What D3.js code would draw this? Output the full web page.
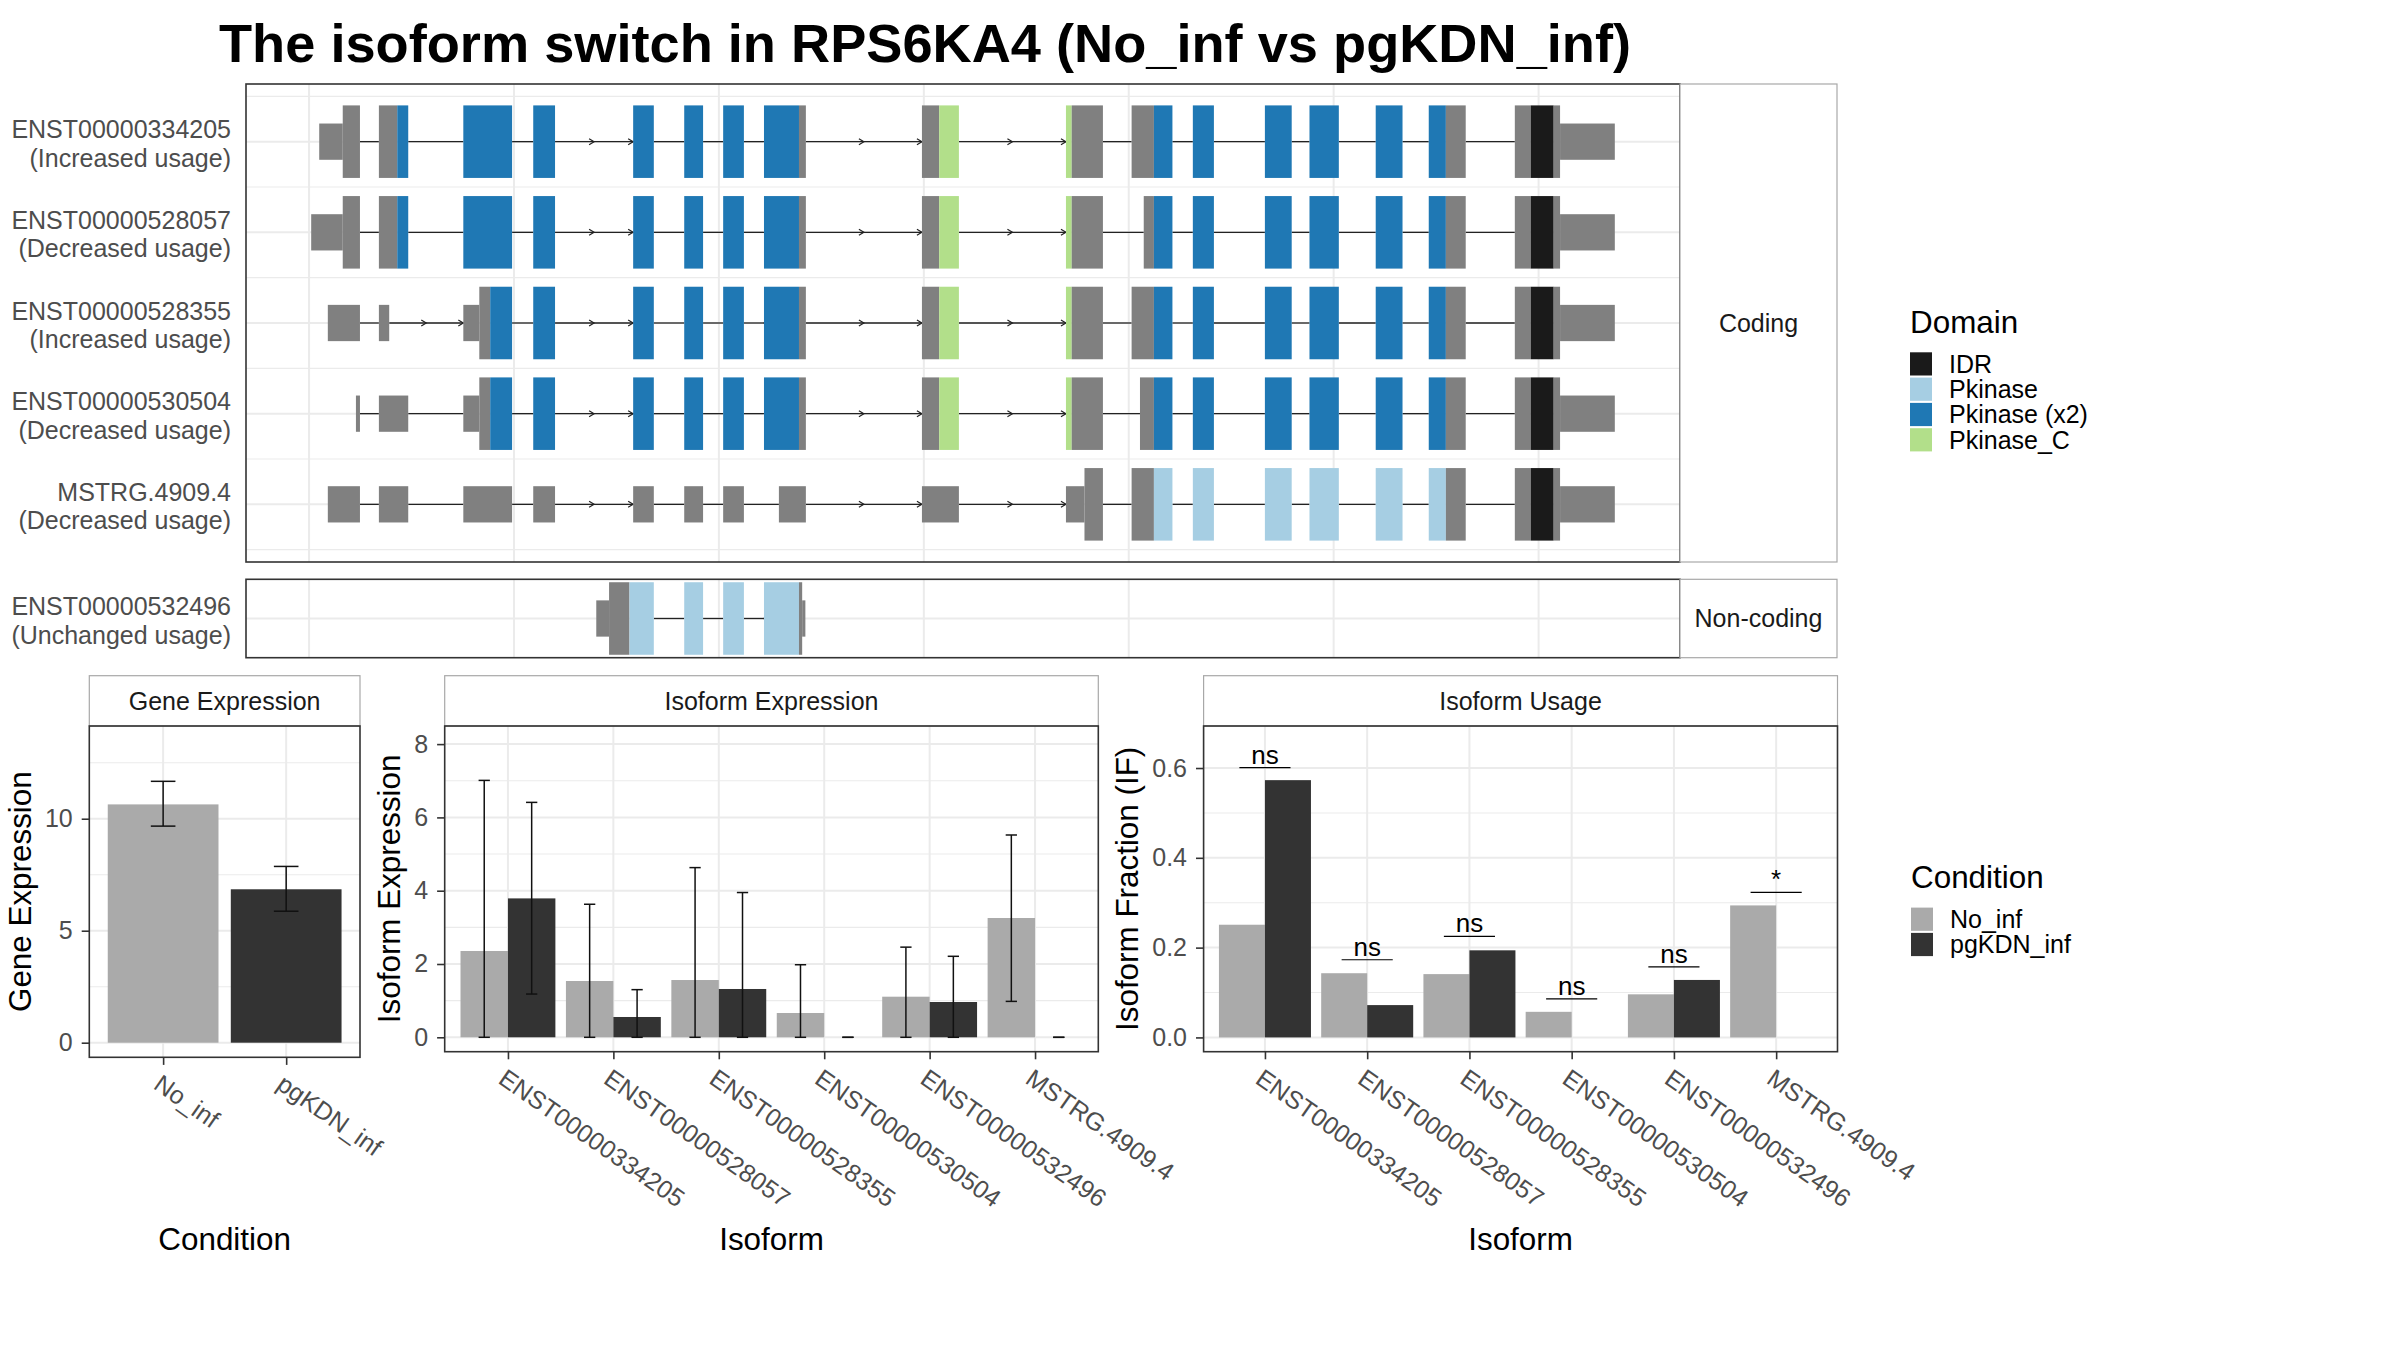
<!DOCTYPE html>
<html>
<head>
<meta charset="utf-8">
<script src="https://cdn.jsdelivr.net/npm/d3@7"></script>
<style>
  body { margin: 0; background: #fff; }
  svg { display: block; font-family: "Liberation Sans", Arial, Helvetica, sans-serif; }
</style>
</head>
<body>
<div id="chart"></div>
<script>
// ---------- data ----------
// exon pieces in bp relative to chr11:64,360,000 ; [start, end, type]
const U = "UTR", C = "CDS", IDR = "IDR", PK = "Pkinase", PK2 = "Pkinase (x2)", PKC = "Pkinase_C";

const tailMid = [[2735, 3001, PK2], [3954, 4206, PK2], [4577, 4807, PK2], [5052, 5305, PK2],
  [5550, 5977, PK2], [5977, 6061, C], [7477, 7687, C], [7687, 7928, PKC], [9234, 9304, PKC], [9304, 9685, C]];
const tailEnd = [[10307, 10533, PK2], [10782, 11039, PK2], [11661, 11988, PK2], [12205, 12563, PK2],
  [13013, 13340, PK2], [13660, 13869, PK2], [13869, 14111, C], [14710, 14904, C], [14904, 15184, IDR],
  [15184, 15262, C], [15262, 15930, U]];

const exons334205 = [[124, 411, U], [411, 621, C], [852, 1076, C], [1076, 1210, PK2], [1882, 2477, PK2],
  ...tailMid, [10035, 10307, C], ...tailEnd];
const exons528057 = [[26, 411, U], [411, 621, C], [852, 1076, C], [1076, 1210, PK2], [1882, 2477, PK2],
  ...tailMid, [10183, 10307, C], ...tailEnd];
const exons528355 = [[229, 621, U], [852, 978, U], [1882, 2077, U], [2077, 2210, C], [2210, 2477, PK2],
  ...tailMid, [10035, 10307, C], ...tailEnd];
const exons530504 = [[572, 621, U], [852, 1210, U], [1882, 2077, U], [2077, 2210, C], [2210, 2477, PK2],
  ...tailMid, [10137, 10307, C], ...tailEnd];
const exonsMSTRG = [[229, 621, U], [852, 1210, U], [1882, 2477, U], [2735, 3001, U], [3954, 4206, U],
  [4577, 4807, U], [5052, 5305, U], [5732, 6061, U], [7477, 7928, U], [9234, 9460, U], [9460, 9685, C],
  [10035, 10307, C], [10307, 10533, PK], [10782, 11039, PK], [11661, 11988, PK], [12205, 12563, PK],
  [13013, 13340, PK], [13660, 13869, PK], [13869, 14111, C], [14710, 14904, C], [14904, 15184, IDR],
  [15184, 15262, C], [15262, 15930, U]];
const exons532496 = [[3504, 3660, U], [3660, 3909, C], [3909, 4206, PK], [4577, 4807, PK],
  [5052, 5305, PK], [5550, 5977, PK], [5977, 6016, C], [6016, 6055, U]];

const genomeBreaks = [0, 2500, 5000, 7500, 10000, 12500, 15000];

const transcripts = [
  {id: "ENST00000334205", usage: "(Increased usage)", group: "Coding", segs: exons334205},
  {id: "ENST00000528057", usage: "(Decreased usage)", group: "Coding", segs: exons528057},
  {id: "ENST00000528355", usage: "(Increased usage)", group: "Coding", segs: exons528355},
  {id: "ENST00000530504", usage: "(Decreased usage)", group: "Coding", segs: exons530504},
  {id: "MSTRG.4909.4", usage: "(Decreased usage)", group: "Coding", segs: exonsMSTRG},
  {id: "ENST00000532496", usage: "(Unchanged usage)", group: "Non-coding", segs: exons532496}
];

const domains = ["IDR", "Pkinase", "Pkinase (x2)", "Pkinase_C"];
const domainColors = ["#1A1A1A", "#A6CEE3", "#1F78B4", "#B2DF8A"];

const conditions = ["No_inf", "pgKDN_inf"];
const conditionColors = ["#AAAAAA", "#333333"];

const geneMean = [10.64, 6.85];
const geneLow = [9.67, 5.87];
const geneHigh = [11.67, 7.87];

const isoforms = ["ENST00000334205", "ENST00000528057", "ENST00000528355",
  "ENST00000530504", "ENST00000532496", "MSTRG.4909.4"];
const expNoInf = [2.355, 1.536, 1.563, 0.663, 1.108, 3.255];
const expNoInfLow = [0, 0, 0, 0, 0, 0.98];
const expNoInfHigh = [7.01, 3.63, 4.63, 1.98, 2.46, 5.52];
const expPgKDN = [3.79, 0.554, 1.318, 0, 0.963, 0];
const expPgKDNLow = [1.18, 0, 0, 0, 0, 0];
const expPgKDNHigh = [6.41, 1.30, 3.95, 0, 2.21, 0];

const ifNoInf = [0.251, 0.143, 0.141, 0.057, 0.096, 0.294];
const ifPgKDN = [0.573, 0.072, 0.194, 0, 0.128, 0];
const sigLabel = ["ns", "ns", "ns", "ns", "ns", "*"];
const sigY = [0.601, 0.173, 0.225, 0.086, 0.157, 0.323];

// ---------- setup ----------
const W = 2400, H = 1350;
const svg = d3.select("#chart").append("svg").attr("width", W).attr("height", H);
svg.append("rect").attr("width", W).attr("height", H).attr("fill", "#fff");

const GRID = "#EBEBEB", BORDER = "#333333", STRIPB = "#A8A8A8", TXT = "#4D4D4D";

svg.append("text")
  .attr("x", 925).attr("y", 62)
  .attr("text-anchor", "middle")
  .attr("font-size", 54.2).attr("font-weight", "bold")
  .text("The isoform switch in RPS6KA4 (No_inf vs pgKDN_inf)");

// ---------- transcript structure ----------
const allPos = transcripts.flatMap(t => t.segs.flatMap(s => [s[0], s[1]]));
const [gMin, gMax] = d3.extent(allPos);
const gPad = (gMax - gMin) * 0.05;
const xg = d3.scaleLinear().domain([gMin - gPad, gMax + gPad]).range([246, 1680]);
const segColor = d3.scaleOrdinal().domain(domains).range(domainColors);

const structPanels = [
  {name: "Coding", top: 84, bottom: 562, pad: 0.636},
  {name: "Non-coding", top: 579.3, bottom: 657.7, pad: 0.5}
];
let rowUnit = null;

structPanels.forEach(p => {
  const rows = transcripts.filter(t => t.group === p.name);
  const y = d3.scalePoint().domain(rows.map(t => t.id)).range([p.top, p.bottom]).padding(p.pad);
  if (rowUnit === null) rowUnit = y.step();
  const g = svg.append("g");

  // grid
  const minorY = [...new Set(rows.flatMap(t => [y(t.id) - rowUnit / 2, y(t.id) + rowUnit / 2]))]
    .filter(v => v > p.top && v < p.bottom);
  g.selectAll(".mn").data(minorY).join("line")
    .attr("x1", xg.range()[0]).attr("x2", xg.range()[1])
    .attr("y1", d => d).attr("y2", d => d)
    .attr("stroke", GRID).attr("stroke-width", 1.1);
  g.selectAll(".mj").data(rows).join("line")
    .attr("x1", xg.range()[0]).attr("x2", xg.range()[1])
    .attr("y1", d => y(d.id)).attr("y2", d => y(d.id))
    .attr("stroke", GRID).attr("stroke-width", 2);
  g.selectAll(".vx").data(genomeBreaks).join("line")
    .attr("x1", d => xg(d)).attr("x2", d => xg(d))
    .attr("y1", p.top).attr("y2", p.bottom)
    .attr("stroke", GRID).attr("stroke-width", 2);

  rows.forEach(t => {
    const cy = y(t.id);
    const segs = t.segs.slice().sort((a, b) => a[0] - b[0]);
    // merge touching pieces into exons, then introns between them
    const exons = [];
    segs.forEach(s => {
      const last = exons[exons.length - 1];
      if (last && s[0] <= last[1] + 1) last[1] = Math.max(last[1], s[1]);
      else exons.push([s[0], s[1]]);
    });
    const introns = d3.pairs(exons).map(([a, b]) => [a[1], b[0]]);

    g.selectAll(null).data(introns).join("line")
      .attr("x1", d => xg(d[0])).attr("x2", d => xg(d[1]))
      .attr("y1", cy).attr("y2", cy)
      .attr("stroke", "#222").attr("stroke-width", 1.3);

    const arrows = introns.filter(d => d[1] - d[0] > 800).flatMap(d => [(d[0] + d[1]) / 2, d[1]]);
    g.selectAll(null).data(arrows).join("path")
      .attr("d", d => `M${xg(d) - 5},${cy - 3}L${xg(d)},${cy}L${xg(d) - 5},${cy + 3}`)
      .attr("fill", "none").attr("stroke", "#222").attr("stroke-width", 1.2);

    g.selectAll(null).data(segs).join("rect")
      .attr("x", d => xg(d[0]))
      .attr("width", d => xg(d[1]) - xg(d[0]))
      .attr("y", d => cy - rowUnit * (d[2] === U ? 0.2 : 0.4))
      .attr("height", d => rowUnit * (d[2] === U ? 0.4 : 0.8))
      .attr("fill", d => (d[2] === U || d[2] === C) ? "#808080" : segColor(d[2]));

    // left labels
    svg.append("text").attr("x", 231).attr("y", cy - 3.4)
      .attr("text-anchor", "end").attr("font-size", 25).attr("fill", TXT).text(t.id);
    svg.append("text").attr("x", 231).attr("y", cy + 25)
      .attr("text-anchor", "end").attr("font-size", 25).attr("fill", TXT).text(t.usage);
  });

  g.append("rect")
    .attr("x", xg.range()[0]).attr("y", p.top)
    .attr("width", xg.range()[1] - xg.range()[0]).attr("height", p.bottom - p.top)
    .attr("fill", "none").attr("stroke", BORDER).attr("stroke-width", 1.6);
  g.append("rect")
    .attr("x", 1680).attr("y", p.top).attr("width", 157).attr("height", p.bottom - p.top)
    .attr("fill", "#fff").attr("stroke", STRIPB).attr("stroke-width", 1.2);
  g.append("text")
    .attr("x", 1758.5).attr("y", (p.top + p.bottom) / 2).attr("dy", "0.35em")
    .attr("text-anchor", "middle").attr("font-size", 25).attr("fill", "#1A1A1A")
    .text(p.name);
});

// ---------- bar panels ----------
function barPanel(o) {
  const g = svg.append("g");
  const x = d3.scalePoint().domain(o.cats).range([o.left, o.right]).padding(0.6);
  const y = d3.scaleLinear().domain(o.yDomain).range([o.bottom, o.top]);
  const major = y.ticks(o.nTicks);
  const st = major[1] - major[0];
  const minor = d3.range(major[0] - st / 2, o.yDomain[1], st).filter(v => v > o.yDomain[0]);

  g.selectAll(".mn").data(minor).join("line")
    .attr("x1", o.left).attr("x2", o.right).attr("y1", d => y(d)).attr("y2", d => y(d))
    .attr("stroke", GRID).attr("stroke-width", 1.1);
  g.selectAll(".mj").data(major).join("line")
    .attr("x1", o.left).attr("x2", o.right).attr("y1", d => y(d)).attr("y2", d => y(d))
    .attr("stroke", GRID).attr("stroke-width", 2);
  g.selectAll(".vx").data(o.cats).join("line")
    .attr("x1", d => x(d)).attr("x2", d => x(d)).attr("y1", o.top).attr("y2", o.bottom)
    .attr("stroke", GRID).attr("stroke-width", 2);

  // strip
  g.append("rect").attr("x", o.left).attr("y", o.top - 50.3)
    .attr("width", o.right - o.left).attr("height", 50.3)
    .attr("fill", "#fff").attr("stroke", STRIPB).attr("stroke-width", 1.2);
  g.append("text").attr("x", (o.left + o.right) / 2).attr("y", o.top - 25).attr("dy", "0.35em")
    .attr("text-anchor", "middle").attr("font-size", 25).attr("fill", "#1A1A1A").text(o.title);

  // axes
  const ya = svg.append("g").attr("transform", `translate(${o.left},0)`)
    .call(d3.axisLeft(y).tickValues(major).tickSize(7.6).tickPadding(9).tickFormat(o.fmt));
  const xa = svg.append("g").attr("transform", `translate(0,${o.bottom})`)
    .call(d3.axisBottom(x).tickSize(7.6));
  [ya, xa].forEach(a => {
    a.attr("font-size", 25).attr("font-family", null);
    a.select(".domain").remove();
    a.selectAll(".tick line").attr("stroke", BORDER).attr("stroke-width", 1.6);
    a.selectAll(".tick text").attr("fill", TXT);
  });
  xa.selectAll(".tick text")
    .attr("x", 0).attr("y", 0).attr("dy", null)
    .attr("text-anchor", "start")
    .attr("transform", "translate(-11.5,30.5) rotate(35)");

  const lw = d3.max(ya.selectAll(".tick text").nodes(), n => n.getComputedTextLength());
  const tx = o.left - 16.6 - lw - 14.2;
  svg.append("text")
    .attr("transform", `translate(${tx},${(o.top + o.bottom) / 2}) rotate(-90)`)
    .attr("text-anchor", "middle").attr("font-size", 31.4).attr("fill", "#000").text(o.yTitle);
  svg.append("text")
    .attr("x", (o.left + o.right) / 2).attr("y", 1249.5)
    .attr("text-anchor", "middle").attr("font-size", 31.4).attr("fill", "#000").text(o.xTitle);

  return {g, x, y, step: x.step(), border() {
    g.append("rect").attr("x", o.left).attr("y", o.top)
      .attr("width", o.right - o.left).attr("height", o.bottom - o.top)
      .attr("fill", "none").attr("stroke", BORDER).attr("stroke-width", 1.6);
  }};
}

function errorBar(g, cx, y, lo, hi, w) {
  g.append("line").attr("x1", cx).attr("x2", cx).attr("y1", y(lo)).attr("y2", y(hi))
    .attr("stroke", "#111").attr("stroke-width", 1.5);
  [lo, hi].forEach(v => g.append("line")
    .attr("x1", cx - w / 2).attr("x2", cx + w / 2).attr("y1", y(v)).attr("y2", y(v))
    .attr("stroke", "#111").attr("stroke-width", 1.5));
}

// Gene expression
const gp = barPanel({left: 89.3, right: 360, top: 726, bottom: 1057.3, title: "Gene Expression",
  cats: conditions, yDomain: [-0.652, 14.14], nTicks: 4, fmt: d3.format("d"),
  yTitle: "Gene Expression", xTitle: "Condition"});
gp.g.selectAll(".bar").data(conditions).join("rect")
  .attr("x", d => gp.x(d) - 0.45 * gp.step).attr("width", 0.9 * gp.step)
  .attr("y", (d, i) => gp.y(geneMean[i])).attr("height", (d, i) => gp.y(0) - gp.y(geneMean[i]))
  .attr("fill", (d, i) => conditionColors[i]);
conditions.forEach((c, i) => errorBar(gp.g, gp.x(c), gp.y, geneLow[i], geneHigh[i], 0.2 * gp.step));
gp.border();

// Isoform expression
const ep = barPanel({left: 444.7, right: 1098.3, top: 726, bottom: 1051.7, title: "Isoform Expression",
  cats: isoforms, yDomain: [-0.393, 8.494], nTicks: 5, fmt: d3.format("d"),
  yTitle: "Isoform Expression", xTitle: "Isoform"});
const expSeries = [
  {mean: expNoInf, lo: expNoInfLow, hi: expNoInfHigh},
  {mean: expPgKDN, lo: expPgKDNLow, hi: expPgKDNHigh}
];
const dodgeE = d3.scaleBand().domain(conditions).range([-0.45 * ep.step, 0.45 * ep.step]);
expSeries.forEach((s, k) => {
  const off = dodgeE(conditions[k]);
  ep.g.selectAll(null).data(isoforms).join("rect")
    .attr("x", d => ep.x(d) + off).attr("width", dodgeE.bandwidth())
    .attr("y", (d, i) => ep.y(s.mean[i])).attr("height", (d, i) => ep.y(0) - ep.y(s.mean[i]))
    .attr("fill", conditionColors[k]);
});
expSeries.forEach((s, k) => {
  const off = dodgeE(conditions[k]) + dodgeE.bandwidth() / 2;
  isoforms.forEach((iso, i) => errorBar(ep.g, ep.x(iso) + off, ep.y, s.lo[i], s.hi[i], 0.107 * ep.step));
});
ep.border();

// Isoform usage
const up = barPanel({left: 1203.6, right: 1837.5, top: 726, bottom: 1051.7, title: "Isoform Usage",
  cats: isoforms, yDomain: [-0.0318, 0.6936], nTicks: 4, fmt: d3.format(".1f"),
  yTitle: "Isoform Fraction (IF)", xTitle: "Isoform"});
const dodgeU = d3.scaleBand().domain(conditions).range([-0.45 * up.step, 0.45 * up.step]);
[ifNoInf, ifPgKDN].forEach((vals, k) => {
  up.g.selectAll(null).data(isoforms).join("rect")
    .attr("x", d => up.x(d) + dodgeU(conditions[k])).attr("width", dodgeU.bandwidth())
    .attr("y", (d, i) => up.y(vals[i])).attr("height", (d, i) => up.y(0) - up.y(vals[i]))
    .attr("fill", conditionColors[k]);
});
up.g.selectAll(".sig").data(isoforms).join("line")
  .attr("x1", d => up.x(d) - 0.25 * up.step).attr("x2", d => up.x(d) + 0.25 * up.step)
  .attr("y1", (d, i) => up.y(sigY[i])).attr("y2", (d, i) => up.y(sigY[i]))
  .attr("stroke", "#000").attr("stroke-width", 1.2);
up.g.selectAll(".sigt").data(isoforms).join("text")
  .attr("x", d => up.x(d)).attr("y", (d, i) => up.y(sigY[i]) - 4)
  .attr("text-anchor", "middle").attr("font-size", 26).attr("fill", "#000")
  .text((d, i) => sigLabel[i]);
up.border();

// ---------- legends ----------
function legend(x, y, title, labels, colors) {
  const g = svg.append("g").attr("transform", `translate(${x},${y})`);
  g.append("text").attr("x", 0).attr("y", 0).attr("font-size", 31.4).attr("fill", "#000").text(title);
  const item = g.selectAll(".it").data(labels).join("g")
    .attr("transform", (d, i) => `translate(0,${19.6 + i * 25.3})`);
  item.append("rect").attr("width", 22).attr("height", 23.2).attr("fill", (d, i) => colors[i]);
  item.append("text").attr("x", 39).attr("y", 11.6).attr("dy", "0.35em")
    .attr("font-size", 25).attr("fill", "#000").text(d => d);
}
legend(1910, 332.7, "Domain", domains, domainColors);
legend(1911, 888, "Condition", conditions, conditionColors);
</script>
</body>
</html>
